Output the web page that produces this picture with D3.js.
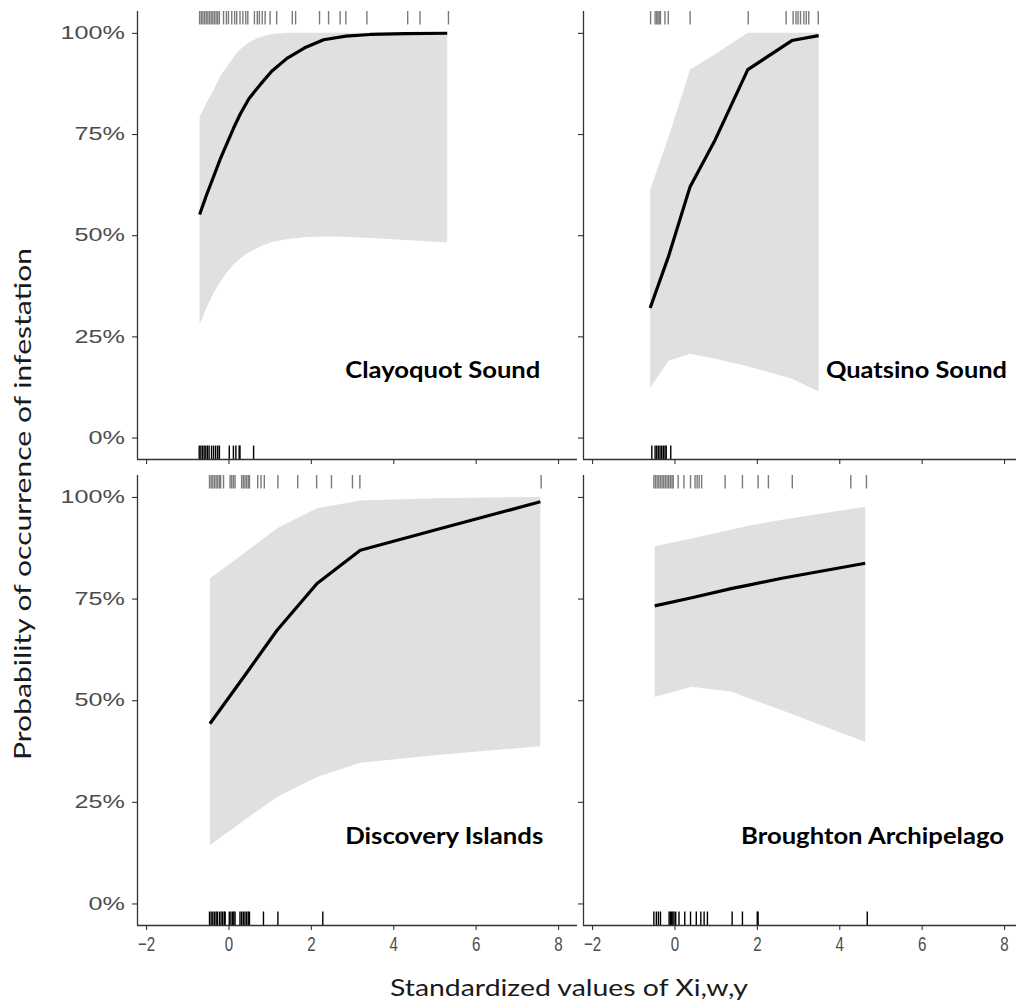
<!DOCTYPE html>
<html>
<head>
<meta charset="utf-8">
<script src="https://cdn.jsdelivr.net/npm/d3@7"></script>
<style>
  html, body { margin: 0; padding: 0; background: #fff; }
  svg { display: block; }
</style>
</head>
<body>
<svg id="chart" width="1016" height="1003"></svg>
<script>
// ---------------- DATA ----------------
const regions = ["Clayoquot Sound", "Quatsino Sound", "Discovery Islands", "Broughton Archipelago"];

const xTicks = [-2, 0, 2, 4, 6, 8];
const yTicks = [0, 0.25, 0.5, 0.75, 1];

// Fitted curve + confidence band per region
const clayoquotX  = [-0.70, -0.53, -0.36, -0.20, -0.03, 0.13, 0.29, 0.50, 0.77, 1.05, 1.42, 1.85, 2.31, 2.85, 3.44, 4.30, 5.31];
const clayoquotP  = [0.551, 0.600, 0.645, 0.688, 0.728, 0.766, 0.800, 0.838, 0.872, 0.905, 0.937, 0.963, 0.983, 0.992, 0.996, 0.998, 0.999];
const clayoquotHi = [0.793, 0.828, 0.859, 0.893, 0.918, 0.941, 0.960, 0.977, 0.990, 0.997, 1.000, 1.000, 1.000, 1.000, 1.000, 1.000, 1.000];
const clayoquotLo = [0.279, 0.322, 0.357, 0.385, 0.410, 0.428, 0.443, 0.458, 0.472, 0.483, 0.490, 0.495, 0.497, 0.496, 0.493, 0.488, 0.482];

const quatsinoX  = [-0.59, -0.14, 0.38, 0.99, 1.78, 2.85, 3.50];
const quatsinoP  = [0.320, 0.449, 0.620, 0.736, 0.909, 0.981, 0.993];
const quatsinoHi = [0.612, 0.744, 0.909, 0.948, 1.000, 1.000, 1.000];
const quatsinoLo = [0.123, 0.190, 0.207, 0.195, 0.176, 0.145, 0.114];

const discoveryX  = [-0.45, 0.37, 1.18, 2.15, 3.20, 5.06, 7.57];
const discoveryP  = [0.442, 0.557, 0.672, 0.787, 0.869, 0.920, 0.988];
const discoveryHi = [0.800, 0.861, 0.923, 0.972, 0.991, 0.997, 1.000];
const discoveryLo = [0.143, 0.204, 0.262, 0.311, 0.346, 0.365, 0.387];

const broughtonX  = [-0.48, 0.42, 1.40, 1.80, 2.61, 4.63];
const broughtonP  = [0.732, 0.752, 0.775, 0.783, 0.800, 0.837];
const broughtonHi = [0.879, 0.898, 0.920, 0.929, 0.944, 0.976];
const broughtonLo = [0.508, 0.533, 0.521, 0.505, 0.475, 0.397];

// Rug observations: infested (top, grey) and not infested (bottom, black)
const clayoquotRugTop = [-0.70,-0.66,-0.62,-0.58,-0.54,-0.50,-0.46,-0.42,-0.38,-0.34,-0.30,-0.26,-0.22,-0.12,-0.05,0.00,0.08,0.15,0.20,0.28,0.35,0.42,0.47,0.63,0.70,0.75,0.82,0.89,1.01,1.17,1.55,1.63,2.21,2.43,2.71,2.85,3.36,4.35,4.65,5.34];
const clayoquotRugBot = [-0.71,-0.67,-0.63,-0.59,-0.55,-0.51,-0.47,-0.41,-0.36,-0.31,-0.26,-0.22,0.02,0.12,0.18,0.26,0.28,0.61];
const quatsinoRugTop = [-0.58,-0.47,-0.43,-0.40,-0.37,-0.34,-0.23,-0.15,0.38,1.79,2.71,2.88,2.95,3.00,3.06,3.14,3.20,3.26,3.49];
const quatsinoRugBot = [-0.55,-0.47,-0.43,-0.39,-0.35,-0.31,-0.27,-0.23,-0.20,-0.09];
const discoveryRugTop = [-0.46,-0.42,-0.38,-0.34,-0.30,-0.26,-0.22,-0.19,-0.12,0.04,0.08,0.12,0.16,0.32,0.36,0.40,0.44,0.48,0.51,0.71,0.79,0.87,1.20,1.68,2.14,2.50,3.01,3.19,7.59];
const discoveryRugBot = [-0.46,-0.42,-0.38,-0.34,-0.30,-0.27,-0.22,-0.18,-0.14,-0.10,-0.08,0.02,0.06,0.10,0.13,0.16,0.28,0.32,0.36,0.40,0.44,0.48,0.51,0.85,1.20,2.29];
const broughtonRugTop = [-0.50,-0.46,-0.42,-0.38,-0.34,-0.30,-0.26,-0.22,-0.18,-0.14,-0.10,-0.06,-0.03,0.09,0.23,0.39,0.50,0.55,0.60,0.66,1.23,1.65,2.03,2.28,2.86,4.28,4.66];
const broughtonRugBot = [-0.50,-0.44,-0.39,-0.34,-0.13,-0.10,-0.07,-0.04,-0.01,0.03,0.11,0.25,0.39,0.53,0.64,0.72,0.80,1.40,1.65,2.01,2.03,4.68];

const xTitle = "Standardized values of Xi,w,y";
const yTitle = "Probability of occurrence of infestation";

// ---------------- BUILD ----------------
const series = [
  {x: clayoquotX, p: clayoquotP, hi: clayoquotHi, lo: clayoquotLo, rugTop: clayoquotRugTop, rugBot: clayoquotRugBot},
  {x: quatsinoX, p: quatsinoP, hi: quatsinoHi, lo: quatsinoLo, rugTop: quatsinoRugTop, rugBot: quatsinoRugBot},
  {x: discoveryX, p: discoveryP, hi: discoveryHi, lo: discoveryLo, rugTop: discoveryRugTop, rugBot: discoveryRugBot},
  {x: broughtonX, p: broughtonP, hi: broughtonHi, lo: broughtonLo, rugTop: broughtonRugTop, rugBot: broughtonRugBot}
].map((s, i) => Object.assign(s, {name: regions[i], col: i % 2, row: Math.floor(i / 2)}));

const svg = d3.select("#chart");
const colX = [137, 583];
const rowY = [[11, 459], [475, 925]];
const panelW = 440;
const xDomain = [-2.22, 8.46];
const yDomain = [-0.053, 1.054];
const labelX = [7.57, 8.07, 7.64, 8.0];
const labelW = [195, 181, 198, 263];
const labelY = 0.168;

const axisColor = "#333333";
const tickTextColor = "#4d4d4d";
const labelFont = "Lato, 'Open Sans', sans-serif";

series.forEach((s, i) => {
  const x0 = colX[s.col];
  const [yTop, yBot] = rowY[s.row];
  const x = d3.scaleLinear().domain(xDomain).range([x0, x0 + panelW]);
  const y = d3.scaleLinear().domain(yDomain).range([yBot, yTop]);
  const g = svg.append("g");

  const pts = s.x.map((v, k) => ({x: v, p: s.p[k], hi: s.hi[k], lo: s.lo[k]}));

  // band
  g.append("path")
    .datum(pts)
    .attr("fill", "#e0e0e0")
    .attr("d", d3.area().x(d => x(d.x)).y0(d => y(d.lo)).y1(d => y(d.hi)));

  // line
  g.append("path")
    .datum(pts)
    .attr("fill", "none")
    .attr("stroke", "#000")
    .attr("stroke-width", 3.2)
    .attr("stroke-linejoin", "round")
    .attr("d", d3.line().x(d => x(d.x)).y(d => y(d.p)));

  // rugs
  const rugLen = (yBot - yTop) * 0.03;
  g.append("g").selectAll("line").data(s.rugTop).join("line")
    .attr("x1", d => x(d)).attr("x2", d => x(d))
    .attr("y1", yTop).attr("y2", yTop + rugLen)
    .attr("stroke", "#7a7a7a").attr("stroke-width", 1.4);
  g.append("g").selectAll("line").data(s.rugBot).join("line")
    .attr("x1", d => x(d)).attr("x2", d => x(d))
    .attr("y1", yBot - rugLen).attr("y2", yBot)
    .attr("stroke", "#000").attr("stroke-width", 1.4);

  // axes
  const xAxis = d3.axisBottom(x).tickValues(xTicks).tickSize(5).tickPadding(6)
    .tickFormat(s.row === 1 ? d3.format("d") : "");
  const gx = g.append("g").attr("transform", `translate(0,${yBot})`).call(xAxis);
  gx.select(".domain").attr("d", `M${x0},0.5H${x0 + panelW}`);
  const yAxis = d3.axisLeft(y).tickValues(yTicks).tickSize(5).tickPadding(7)
    .tickFormat(s.col === 0 ? d3.format(".0%") : "");
  const gy = g.append("g").attr("transform", `translate(${x0},0)`).call(yAxis);
  gy.select(".domain").attr("d", `M0.5,${yTop}V${yBot}`);

  [gx, gy].forEach(ax => {
    ax.select(".domain").attr("stroke", axisColor).attr("stroke-width", 1.3);
    ax.selectAll(".tick line").attr("stroke", axisColor).attr("stroke-width", 1.1);
  });
  gy.selectAll(".tick text")
    .attr("fill", tickTextColor)
    .attr("font-family", "'Liberation Sans', Arial, sans-serif")
    .attr("font-size", 18)
    .attr("x", -12 / 1.4)
    .attr("transform", "scale(1.4,1)");
  gx.selectAll(".tick text")
    .attr("fill", tickTextColor)
    .attr("font-family", "'Liberation Sans', Arial, sans-serif")
    .attr("font-size", 21)
    .attr("transform", "scale(0.72,1)");

  // panel label
  g.append("text")
    .attr("x", x(labelX[i]))
    .attr("y", y(labelY))
    .attr("text-anchor", "end")
    .attr("dominant-baseline", "central")
    .attr("font-family", labelFont)
    .attr("font-weight", 700)
    .attr("font-size", 22)
    .attr("textLength", labelW[i])
    .attr("lengthAdjust", "spacingAndGlyphs")
    .attr("fill", "#000")
    .text(s.name);
});

// axis titles
svg.append("text")
  .attr("x", 569).attr("y", 996)
  .attr("text-anchor", "middle")
  .attr("font-family", labelFont)
  .attr("font-size", 24)
  .attr("textLength", 358)
  .attr("lengthAdjust", "spacingAndGlyphs")
  .attr("fill", "#1a1a1a")
  .text(xTitle);

svg.append("text")
  .attr("transform", "translate(31,504) rotate(-90)")
  .attr("text-anchor", "middle")
  .attr("font-family", labelFont)
  .attr("font-size", 24)
  .attr("textLength", 512)
  .attr("lengthAdjust", "spacingAndGlyphs")
  .attr("fill", "#1a1a1a")
  .text(yTitle);
</script>
</body>
</html>
